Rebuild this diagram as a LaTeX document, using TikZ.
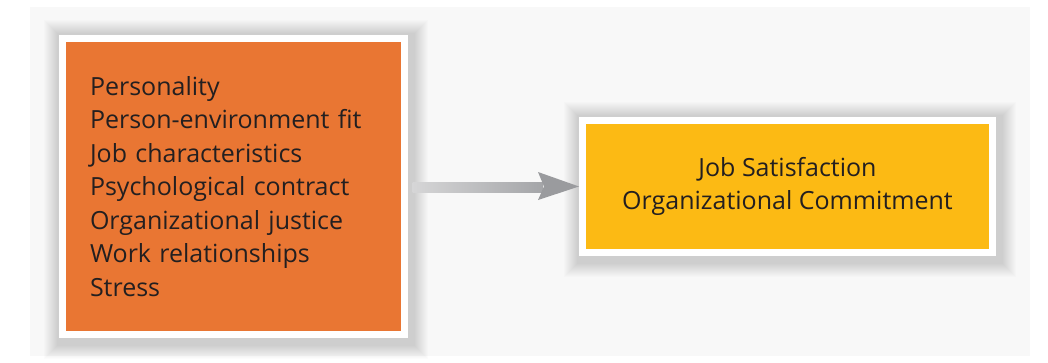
\documentclass[tikz,border=0pt]{standalone}
\usepackage{fontspec}
\setmainfont{Open Sans}
\usetikzlibrary{calc}
\definecolor{bgpanel}{HTML}{F8F8F8}
\definecolor{orangebox}{HTML}{E97633}
\definecolor{yellowbox}{HTML}{FCBA14}
\definecolor{txt}{HTML}{231F20}
\definecolor{arrowhead}{HTML}{9A9B9E}
\definecolor{shaftlight}{HTML}{D6D6D7}
\definecolor{shaftdark}{HTML}{A4A5A8}
\tikzset{
  panelbox/.style={draw=white, line width=7pt, inner sep=0pt, text=txt,
    font=\fontsize{25}{33.5}\selectfont},
}
\newcommand{\softshadow}[1]{%
  \foreach \i in {1,...,14}{%
    \fill[black, opacity=0.012]
      ($(#1.south west)+(-\i+2,\i+3)$) rectangle ($(#1.north east)+(\i+2,-\i+2)$);
  }%
}
\begin{document}
\begin{tikzpicture}[x=1pt,y=-1pt]
\useasboundingbox (0,0) rectangle (1048,362);
\fill[white] (0,0) rectangle (1048,362);
\fill[bgpanel] (30,7) rectangle (1030,356);

% geometry helpers for shadows
\path (233.5,186.5) node[panelbox, draw=none, minimum width=349pt, minimum height=303pt] (Lg) {};
\path (787.5,186.5) node[panelbox, draw=none, minimum width=417pt, minimum height=139pt] (Rg) {};
\softshadow{Lg}
\softshadow{Rg}

\node[panelbox, fill=orangebox, minimum width=342pt, minimum height=296pt,
      text width=287pt, align=left, inner xsep=27.5pt] (L) at (233.5,186.5)
  {Personality\\Person-environment fit\\Job characteristics\\Psychological contract\\Organizational justice\\Work relationships\\Stress};

\node[panelbox, fill=yellowbox, minimum width=410pt, minimum height=132pt,
      align=center] (R) at (787.5,186.5)
  {Job Satisfaction\\Organizational Commitment};

% connector
\shade[left color=shaftlight, right color=shaftdark]
  ($(L.east)+(4.5,-4.5)$) rectangle ($(R.west)+(-36,5.5)$);
\fill[arrowhead] ($(R.west)+(-41,-14.5)$) -- ($(R.west)+(0,0)$) -- ($(R.west)+(-41,13.5)$) -- ($(R.west)+(-35,0)$) -- cycle;
\end{tikzpicture}
\end{document}
